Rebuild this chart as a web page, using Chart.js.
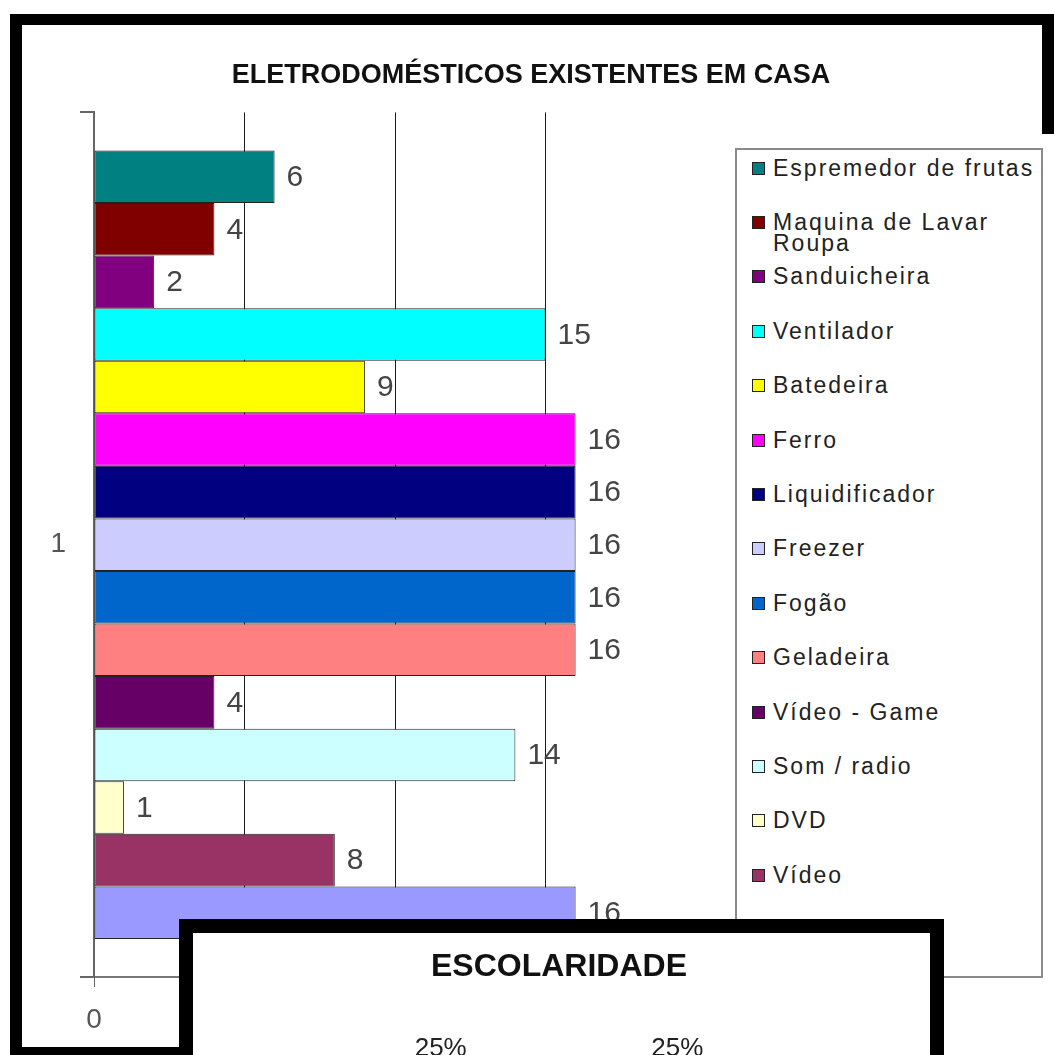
<!DOCTYPE html>
<html>
<head>
<meta charset="utf-8">
<script src="https://cdn.jsdelivr.net/npm/chart.js@4/dist/chart.umd.min.js"></script>
<style>
  html, body { margin: 0; padding: 0; overflow: hidden; background: #fff; width: 1054px; height: 1055px; }
  #frame { position: absolute; left: 10px; top: 14px; width: 1032px; height: 1033px; border-left: 12px solid #000; border-top: 11px solid #000; border-bottom: 1px solid #999; background: #fff; }
  #frameRight { position: absolute; left: 1042px; top: 14px; width: 12px; height: 120px; background: #000; }
  #frameBottom { position: absolute; left: 10px; top: 1047px; width: 175px; height: 8px; background: #000; }
  #mainChart { position: absolute; left: 22px; top: 26px; }
  #legendBox { position: absolute; left: 735px; top: 148px; width: 308px; height: 830px; box-sizing: border-box; border: 2px solid #8a8a8a; background: #fff;
    font-family: "Liberation Sans", Arial, sans-serif; font-size: 23px; letter-spacing: 2px; color: #222; }
  .item { position: absolute; left: 0; width: 300px; line-height: 21px; }
  .item .sw { position: absolute; left: 15px; top: 4px; width: 11px; height: 11px; border: 1px solid #222; }
  .item .tx { position: absolute; left: 36px; width: 264px; white-space: normal; }
  #schoolBox { position: absolute; left: 179px; top: 919px; width: 765px; height: 480px; box-sizing: border-box; border: 14px solid #000; background: #fff; z-index: 5; }
  #schoolChart { position: absolute; left: 0; top: 0; }
</style>
</head>
<body>
<div id="frame"></div>
<div id="frameRight"></div>
<div id="frameBottom"></div>
<canvas id="mainChart" width="1018" height="1021"></canvas>
<div id="legendBox"></div>
<div id="schoolBox"><canvas id="schoolChart" width="737" height="420"></canvas></div>

<script>
// eletrodomesticos: one category, one dataset per appliance
var categories = ['1'];
var appliances = [
  'Espremedor de frutas', 'Maquina de Lavar Roupa', 'Sanduicheira', 'Ventilador', 'Batedeira',
  'Ferro', 'Liquidificador', 'Freezer', 'Fogão', 'Geladeira',
  'Vídeo - Game', 'Som / radio', 'DVD', 'Vídeo', 'TV'
];
var counts = [6, 4, 2, 15, 9, 16, 16, 16, 16, 16, 4, 14, 1, 8, 16];
var barColors = [
  '#008080', '#800000', '#800080', '#00FFFF', '#FFFF00',
  '#FF00FF', '#000080', '#CCCCFF', '#0066CC', '#FF8080',
  '#660066', '#CCFFFF', '#FFFFCC', '#993366', '#9999FF'
];
var xTicks = [0, 5, 10, 15, 20];

// escolaridade pie
var schoolLevels = ['Fundamental incompleto', 'Fundamental completo', 'Médio incompleto', 'Médio completo'];
var schoolCounts = [4, 4, 4, 4];
var schoolColors = ['#FFFFCC', '#9999FF', '#993366', '#CCFFFF'];

var FONT = '"Liberation Sans", Arial, sans-serif';

var valueLabels = {
  id: 'valueLabels',
  afterDatasetsDraw: function(chart) {
    var ctx = chart.ctx;
    ctx.save();
    ctx.font = '30px ' + FONT;
    ctx.fillStyle = '#444';
    ctx.textBaseline = 'middle';
    chart.data.datasets.forEach(function(ds, i) {
      chart.getDatasetMeta(i).data.forEach(function(bar, j) {
        ctx.fillText(ds.data[j], bar.x + 12, bar.y + 1);
      });
    });
    ctx.restore();
  }
};

var datasets = appliances.map(function(name, i) {
  return {
    label: name,
    data: [counts[i]],
    backgroundColor: barColors[i],
    borderColor: '#222',
    borderWidth: 1,
    borderSkipped: false
  };
});

var mainChart = new Chart(document.getElementById('mainChart').getContext('2d'), {
  type: 'bar',
  data: { labels: categories, datasets: datasets },
  options: {
    responsive: false,
    animation: false,
    indexAxis: 'y',
    datasets: { bar: { categoryPercentage: 0.912, barPercentage: 1 } },
    plugins: {
      legend: { display: false },
      tooltip: { enabled: false },
      title: {
        display: true,
        text: 'ELETRODOMÉSTICOS EXISTENTES EM CASA',
        color: '#111',
        font: { family: FONT, size: 27, weight: 'bold' },
        padding: { top: 33, bottom: 21 }
      }
    },
    scales: {
      x: {
        min: xTicks[0],
        max: xTicks[xTicks.length - 1],
        afterBuildTicks: function(scale) {
          scale.ticks = xTicks.map(function(v) { return { value: v }; });
        },
        afterFit: function(scale) { scale.height = 70; },
        grid: {
          color: function(c) { return [5, 10, 15].indexOf(c.tick && c.tick.value) >= 0 ? '#1a1a1a' : 'rgba(0,0,0,0)'; },
          tickColor: '#666',
          tickLength: 10,
          lineWidth: 1
        },
        border: { display: true, color: '#777', width: 2 },
        ticks: { color: '#555', font: { family: FONT, size: 28 }, padding: 16, maxRotation: 0 }
      },
      y: {
        afterFit: function(scale) { scale.width = 72; },
        grid: { offset: true, drawOnChartArea: false, color: '#666', tickLength: 14, lineWidth: 2 },
        border: { display: true, color: '#666', width: 2 },
        ticks: { color: '#555', font: { family: FONT, size: 28 }, padding: 14 }
      },
      // empty right-hand axis that keeps room for the legend box
      legendSpace: {
        type: 'linear',
        position: 'right',
        afterFit: function(scale) { scale.width = 344; },
        grid: { display: false },
        border: { display: false },
        ticks: { display: false }
      }
    }
  },
  plugins: [valueLabels]
});

// legend box on the right, built from the chart's own datasets
var legendBox = document.getElementById('legendBox');
mainChart.data.datasets.forEach(function(ds, i) {
  var row = document.createElement('div');
  row.className = 'item';
  row.style.top = (18 + i * 54.4 - 10.5) + 'px';
  var sw = document.createElement('span');
  sw.className = 'sw';
  sw.style.background = ds.backgroundColor;
  var tx = document.createElement('span');
  tx.className = 'tx';
  tx.textContent = ds.label;
  row.appendChild(sw);
  row.appendChild(tx);
  legendBox.appendChild(row);
});

// percentage labels outside the pie slices
var pieLabels = {
  id: 'pieLabels',
  afterDatasetsDraw: function(chart) {
    var ctx = chart.ctx;
    var data = chart.data.datasets[0].data;
    var total = data.reduce(function(a, b) { return a + b; }, 0);
    ctx.save();
    ctx.font = '26px ' + FONT;
    ctx.fillStyle = '#222';
    ctx.textAlign = 'center';
    ctx.textBaseline = 'middle';
    chart.getDatasetMeta(0).data.forEach(function(arc, i) {
      var p = arc.getProps(['x', 'y', 'startAngle', 'endAngle', 'outerRadius'], true);
      var mid = (p.startAngle + p.endAngle) / 2;
      var r = p.outerRadius + 58;
      ctx.fillText(Math.round(data[i] / total * 100) + '%', p.x + Math.cos(mid) * r, p.y + Math.sin(mid) * r);
    });
    ctx.restore();
  }
};

new Chart(document.getElementById('schoolChart').getContext('2d'), {
  type: 'pie',
  data: {
    labels: schoolLevels,
    datasets: [{ data: schoolCounts, backgroundColor: schoolColors, borderColor: '#222', borderWidth: 1 }]
  },
  options: {
    responsive: false,
    animation: false,
    layout: { padding: { left: 150, right: 155, top: 0, bottom: 76 } },
    plugins: {
      legend: { display: false },
      tooltip: { enabled: false },
      title: {
        display: true,
        text: 'ESCOLARIDADE',
        color: '#111',
        font: { family: FONT, size: 32, weight: 'bold' },
        padding: { top: 15, bottom: 71 }
      }
    }
  },
  plugins: [pieLabels]
});
</script>
</body>
</html>
